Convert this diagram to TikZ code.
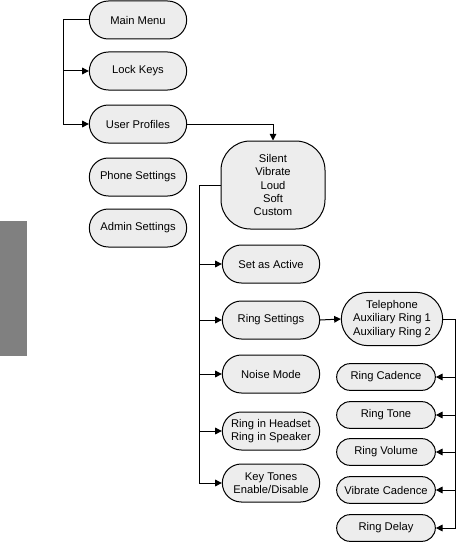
\documentclass[tikz,border=0pt]{standalone}
\usepackage{fontspec}
\setmainfont{Liberation Sans}
\usetikzlibrary{shapes.misc,arrows.meta}
\definecolor{boxfill}{HTML}{EDEDED}
\tikzset{
  menu/.style={draw,rounded rectangle,fill=boxfill,line width=0.75pt,
    minimum width=75pt,minimum height=28.5pt,inner sep=1pt,align=center,
    font=\fontsize{8.4}{10}\selectfont},
  small/.style={menu,minimum width=76pt,minimum height=20pt},
  link/.style={line width=0.75pt},
  tip/.style={link,-{Triangle[length=5pt,width=5pt]}}
}
\begin{document}
\begin{tikzpicture}[x=0.75pt,y=-0.75pt]
      \useasboundingbox (0,0) rectangle (456,542);
      \fill[gray] (0,221) rectangle (27,356);
      \draw
        (138,20) node[menu] (main){Main Menu}
        (138,71) node[menu] (lock){Lock Keys}
        (138,124) node[menu] (user){User Profiles}
        (138,177) node[menu] (phone){Phone Settings}
        (138,228) node[menu] (admin){Admin Settings};
      \node[draw,fill=boxfill,line width=0.75pt,rounded corners=22pt,
        minimum width=78pt,minimum height=66pt,align=center,
        font=\fontsize{8.4}{10}\selectfont] (prof) at (273,185)
        {Silent\\Vibrate\\Loud\\Soft\\Custom};
      \draw
        (271,264) node[menu] (active){Set as Active}
        (271,320) node[menu] (ringset){Ring Settings}
        (271,374) node[menu] (noise){Noise Mode}
        (271,431) node[menu] (head){Ring in Headset\\Ring in Speaker}
        (271,483) node[menu] (keys){Key Tones\\Enable/Disable}
        (392,319) node[menu,minimum width=78pt,minimum height=40pt] (tel){Telephone\\Auxiliary Ring 1\\Auxiliary Ring 2}
        (386,377) node[small] (cad){Ring Cadence}
        (386,415) node[small] (tone){Ring Tone}
        (386,452) node[small] (vol){Ring Volume}
        (386,490) node[small] (vib){Vibrate Cadence}
        (386,528) node[small] (delay){Ring Delay};
      \coordinate (lb) at (63,0);
      \coordinate (mb) at (199,0);
      \coordinate (rb) at (455,0);
      \begin{scope}[tip]
        \draw (main.west) -- (main.west -| lb) |- (user.west);
        \draw (lb |- lock) -- (lock.west);
        \draw (user.east) -| (prof.north);
        \draw (prof.west) -- (prof.west -| mb) |- (keys.west);
        \draw (mb |- active) -- (active.west);
        \draw (mb |- ringset) -- (ringset.west);
        \draw (mb |- noise) -- (noise.west);
        \draw (mb |- head) -- (head.west);
        \draw (ringset.east) -- (tel.west);
        \draw (tel.east) -- (tel.east -| rb) |- (delay.east);
        \draw (rb |- cad) -- (cad.east);
        \draw (rb |- tone) -- (tone.east);
        \draw (rb |- vol) -- (vol.east);
        \draw (rb |- vib) -- (vib.east);
      \end{scope}
    \end{tikzpicture}
\end{document}
